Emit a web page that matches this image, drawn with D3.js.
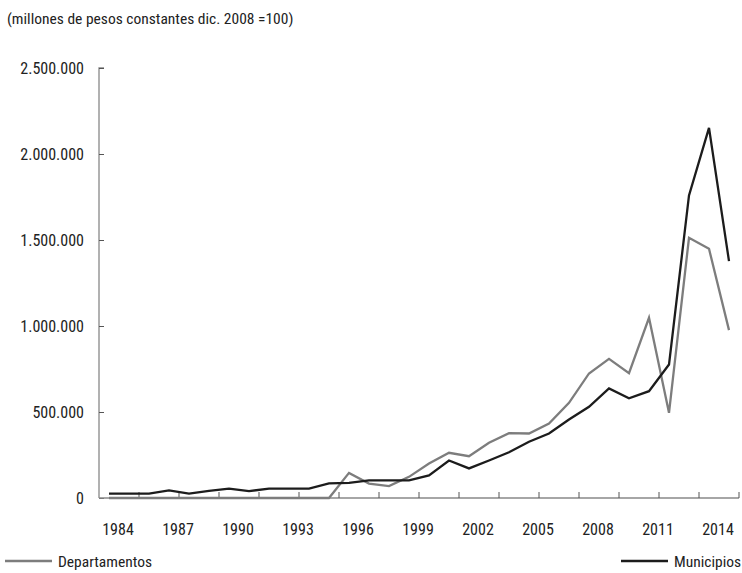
<!DOCTYPE html>
<html>
<head>
<meta charset="utf-8">
<script src="https://cdn.jsdelivr.net/npm/d3@7"></script>
<style>
  body { margin: 0; background: #fff; }
  svg text { font-family: "Liberation Sans Narrow", "Roboto Condensed", "DejaVu Sans Condensed", sans-serif; fill: #222; }
</style>
</head>
<body>
<svg id="chart" width="742" height="573"></svg>
<script>
// years on the category axis (last point has no label)
const years = d3.range(1984, 2016);
const labelYears = [1984, 1987, 1990, 1993, 1996, 1999, 2002, 2005, 2008, 2011, 2014];
const yTicks = [0, 500000, 1000000, 1500000, 2000000, 2500000];

// values (millones de pesos)
const departamentos = [0, 0, 0, 0, 0, 0, 0, 0, 0, 0, 0, 0, 146000, 84000, 69000, 123000,
    200000, 263000, 243000, 321000, 377000, 375000, 433000, 553000, 724000, 809000,
    726000, 1048000, 495000, 1513000, 1449000, 976000];
const municipios = [26000, 26000, 26000, 44000, 26000, 42000, 55000, 40000, 55000, 55000, 55000,
    85000, 88000, 102000, 102000, 102000, 131000, 218000, 172000, 218000, 266000, 327000,
    375000, 456000, 530000, 637000, 580000, 621000, 776000, 1759000, 2152000, 1377000];

const seriesNames = ["Departamentos", "Municipios"];
const seriesColors = ["#7d7d7d", "#1c1c1c"];

const svg = d3.select("#chart");
const margin = { top: 68, right: 3, bottom: 75, left: 99 };
const width = +svg.attr("width") - margin.left - margin.right,
    height = +svg.attr("height") - margin.top - margin.bottom;

const x = d3.scalePoint().domain(years).range([margin.left, margin.left + width]).padding(0.5);
const step = x.step();
const y = d3.scaleLinear().domain([0, 2500000]).range([margin.top + height, margin.top]);

// title
svg.append("text")
    .attr("x", 7)
    .attr("y", 24)
    .style("font-size", "15.5px")
    .text("(millones de pesos constantes dic. 2008 =100)");

const fmt = d3.formatLocale({ decimal: ",", thousands: ".", grouping: [3], currency: ["$", ""] }).format(",d");

// y axis
const yAxis = svg.append("g")
    .attr("transform", "translate(" + margin.left + ",0)")
    .call(d3.axisRight(y).tickValues(yTicks).tickSize(5).tickFormat(""));
yAxis.select(".domain").attr("stroke", "#888").attr("stroke-width", 1.3).attr("d", "M5," + y(2500000) + "H0V" + y(0));
yAxis.selectAll(".tick line").attr("stroke", "#555");
svg.selectAll(".ylab")
    .data(yTicks)
    .enter().append("text")
    .attr("class", "ylab")
    .attr("x", 84)
    .attr("y", d => y(d))
    .attr("dy", "0.36em")
    .attr("text-anchor", "end")
    .style("font-size", "16px")
    .text(d => fmt(d));

// x axis: ticks every two categories, labels every three
const tickPos = d3.range(2, years.length + 1, 2).map(i => margin.left + i * step);
svg.append("line")
    .attr("x1", margin.left).attr("x2", margin.left + width)
    .attr("y1", y(0)).attr("y2", y(0))
    .attr("stroke", "#888").attr("stroke-width", 1.3);
svg.selectAll(".xtick")
    .data(tickPos)
    .enter().append("line")
    .attr("class", "xtick")
    .attr("x1", d => d).attr("x2", d => d)
    .attr("y1", y(0)).attr("y2", y(0) - 6)
    .attr("stroke", "#555");
svg.selectAll(".xlab")
    .data(labelYears)
    .enter().append("text")
    .attr("class", "xlab")
    .attr("x", d => x(d) + 9)
    .attr("y", y(0) + 31)
    .attr("dy", "0.36em")
    .attr("text-anchor", "middle")
    .style("font-size", "16px")
    .text(d => d);

// lines
const line = d3.line()
    .x((d, i) => x(years[i]))
    .y(d => y(d));

[departamentos, municipios].forEach((vals, k) => {
    svg.append("path")
        .datum(vals)
        .attr("fill", "none")
        .attr("stroke", seriesColors[k])
        .attr("stroke-width", 2.3)
        .attr("stroke-linejoin", "miter")
        .attr("d", line);
});

// legend
const legendPos = [5, 621];
seriesNames.forEach((name, k) => {
    const lg = svg.append("g").attr("transform", "translate(" + legendPos[k] + ",561)");
    lg.append("line").attr("x1", 0).attr("x2", 47).attr("y1", 0).attr("y2", 0)
        .attr("stroke", seriesColors[k]).attr("stroke-width", 2.3);
    lg.append("text").attr("x", 53).attr("y", 0).attr("dy", "0.36em")
        .style("font-size", "15.5px").text(name);
});
</script>
</body>
</html>
